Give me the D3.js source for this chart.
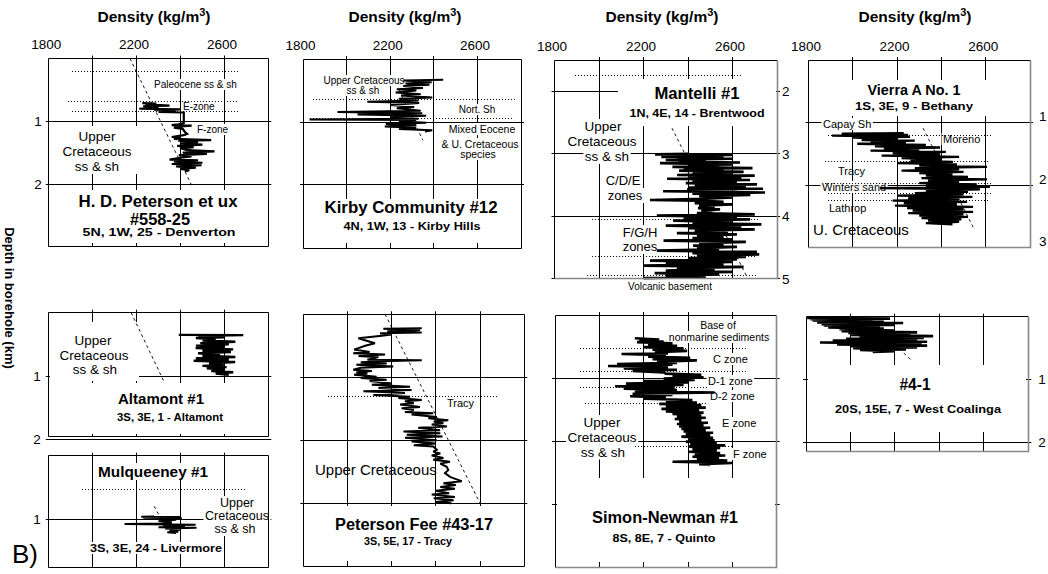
<!DOCTYPE html>
<html><head><meta charset="utf-8">
<script src="https://cdn.jsdelivr.net/npm/d3@7"></script>
<style>html,body{margin:0;padding:0;background:#fff;}svg{display:block;font-family:"Liberation Sans",Arial,Helvetica,sans-serif;}</style>
</head><body>
<svg id="c" width="1048" height="574"></svg>
<script>
// ---------------- DATA ----------------
const densityDomain = [1800, 2800];
const densityTickLabels = [1800, 2200, 2600];
const densityGrid = [2000, 2200, 2400, 2600];

// logs: [depth km, density kg/m3]
const logPeterson = [[0.71,2226],[0.72,2290],[0.73,2240],[0.75,2350],[0.76,2230],[0.78,2300],[0.80,2212],[0.81,2400],[0.82,2280],[0.84,2380],[0.85,2300],[0.86,2415],[0.88,2415],[1.03,2415],[1.05,2390],[1.06,2360],[1.07,2451],[1.08,2400],[1.10,2370],[1.12,2410],[1.17,2420],[1.20,2430],[1.22,2415],[1.25,2360],[1.26,2400],[1.28,2370],[1.30,2540],[1.31,2390],[1.33,2480],[1.35,2400],[1.37,2500],[1.39,2385],[1.41,2460],[1.43,2400],[1.46,2430],[1.48,2555],[1.50,2410],[1.52,2520],[1.54,2392],[1.56,2450],[1.58,2400],[1.61,2350],[1.62,2480],[1.64,2370],[1.66,2500],[1.68,2360],[1.70,2496],[1.72,2380],[1.74,2470],[1.76,2400],[1.78,2440],[1.80,2420]];
const logKirby = [[0.33,2443],[0.34,2260],[0.37,2390],[0.39,2270],[0.41,2380],[0.43,2260],[0.46,2350],[0.48,2230],[0.50,2320],[0.53,2225],[0.56,2340],[0.58,2250],[0.61,2393],[0.63,2240],[0.66,2330],[0.68,2095],[0.70,2333],[0.73,2200],[0.76,2310],[0.78,2230],[0.82,2340],[0.84,1958],[0.86,2347],[0.88,2050],[0.90,2365],[0.92,2200],[0.95,2330],[0.96,1830],[0.97,2319],[0.99,2240],[1.01,2365],[1.03,2180],[1.05,2320],[1.07,2175],[1.09,2319],[1.11,2240],[1.13,2393],[1.15,2360]];
const logMantelli = [[3.00,2400],[3.01,2252],[3.02,2600],[3.03,2330],[3.04,2560],[3.05,2280],[3.06,2508],[3.07,2350],[3.08,2600],[3.10,2300],[3.11,2480],[3.13,2360],[3.14,2634],[3.15,2274],[3.17,2600],[3.18,2400],[3.20,2540],[3.21,2330],[3.23,2690],[3.24,2380],[3.26,2560],[3.27,2360],[3.29,2650],[3.30,2420],[3.32,2600],[3.34,2351],[3.35,2700],[3.37,2400],[3.39,2640],[3.40,2306],[3.42,2679],[3.43,2420],[3.45,2620],[3.47,2390],[3.49,2710],[3.50,2430],[3.52,2660],[3.54,2400],[3.56,2737],[3.57,2396],[3.59,2620],[3.60,2288],[3.62,2746],[3.64,2420],[3.66,2680],[3.68,2450],[3.70,2600],[3.72,2480],[3.74,2229],[3.75,2440],[3.77,2560],[3.79,2430],[3.81,2600],[3.83,2450],[3.85,2520],[3.87,2445],[3.89,2544],[3.91,2460],[3.93,2510],[3.95,2440],[3.97,2700],[3.99,2260],[4.01,2620],[4.03,2380],[4.05,2679],[4.07,2333],[4.09,2600],[4.11,2420],[4.13,2730],[4.15,2300],[4.17,2640],[4.19,2400],[4.21,2700],[4.23,2430],[4.25,2580],[4.27,2350],[4.29,2620],[4.31,2440],[4.33,2560],[4.35,2420],[4.37,2600],[4.39,2290],[4.41,2660],[4.43,2450],[4.45,2560],[4.47,2423],[4.49,2620],[4.51,2440],[4.53,2540],[4.55,2260],[4.57,2710],[4.59,2420],[4.61,2720],[4.63,2440],[4.65,2660],[4.67,2400],[4.69,2620],[4.71,2229],[4.73,2600],[4.75,2300],[4.77,2560],[4.79,2200],[4.81,2650],[4.83,2350],[4.85,2520],[4.87,2300],[4.89,2602],[4.91,2250],[4.93,2540],[4.95,2300],[4.97,2480],[4.99,2200]];
const logVierra = [[1.17,2230],[1.18,1950],[1.20,2250],[1.21,1906],[1.23,2258],[1.24,2000],[1.26,2200],[1.28,2040],[1.29,2280],[1.31,2080],[1.33,2240],[1.34,2020],[1.36,2330],[1.38,2100],[1.40,2394],[1.42,2140],[1.44,2300],[1.45,2080],[1.47,2420],[1.49,2180],[1.51,2394],[1.53,2130],[1.55,2480],[1.57,2220],[1.59,2400],[1.61,2260],[1.63,2452],[1.65,2200],[1.67,2470],[1.69,2300],[1.71,2606],[1.73,2280],[1.75,2480],[1.77,2220],[1.79,2500],[1.81,2300],[1.83,2450],[1.85,2330],[1.87,2520],[1.89,2310],[1.91,2606],[1.93,2340],[1.95,2480],[1.97,2300],[1.99,2560],[2.01,2330],[2.03,2619],[2.05,2123],[2.07,2574],[2.09,2330],[2.11,2520],[2.13,2280],[2.15,2500],[2.17,2200],[2.19,2540],[2.21,2250],[2.23,2480],[2.25,2180],[2.27,2516],[2.29,2230],[2.31,2470],[2.33,2190],[2.35,2543],[2.37,2245],[2.39,2500],[2.41,2270],[2.43,2543],[2.45,2250],[2.47,2500],[2.49,2300],[2.51,2520],[2.53,2310],[2.55,2490],[2.57,2340],[2.59,2480],[2.61,2330],[2.63,2450]];
const logAltamont = [[0.35,2392],[0.355,2686],[0.37,2480],[0.39,2600],[0.40,2470],[0.42,2560],[0.44,2500],[0.46,2650],[0.48,2490],[0.50,2620],[0.52,2470],[0.54,2600],[0.56,2469],[0.58,2640],[0.60,2500],[0.62,2630],[0.64,2480],[0.66,2580],[0.68,2500],[0.70,2650],[0.72,2470],[0.74,2620],[0.76,2460],[0.78,2649],[0.80,2530],[0.82,2600],[0.84,2500],[0.86,2610],[0.88,2520],[0.90,2600],[0.92,2540],[0.94,2640],[0.96,2560],[0.98,2620]];
const logMulqueeney = [[0.96,2280],[0.965,2221],[0.97,2400],[0.98,2230],[0.99,2406],[1.00,2290],[1.01,2380],[1.03,2300],[1.05,2360],[1.07,2340],[1.08,2145],[1.09,2469],[1.10,2320],[1.12,2420],[1.13,2300],[1.14,2473],[1.15,2330],[1.17,2400],[1.18,2350],[1.20,2390],[1.21,2340],[1.22,2380]];
const logPetersonFee = [[0.22,2336],[0.23,2162],[0.25,2328],[0.27,2180],[0.29,2336],[0.30,2147],[0.32,2200],[0.34,2155],[0.38,2049],[0.46,2124],[0.50,2080],[0.56,2030],[0.60,2100],[0.62,2026],[0.64,2170],[0.66,2050],[0.68,2140],[0.72,2090],[0.73,2336],[0.74,2192],[0.76,2060],[0.78,2177],[0.80,2040],[0.83,2207],[0.85,2060],[0.88,2026],[0.90,2110],[0.92,2040],[0.94,2090],[0.96,2030],[0.99,2132],[1.01,2060],[1.04,2177],[1.06,2100],[1.10,2200],[1.12,2110],[1.15,2283],[1.17,2140],[1.20,2290],[1.22,2072],[1.25,2260],[1.28,2117],[1.31,2283],[1.33,2230],[1.36,2336],[1.38,2260],[1.41,2300],[1.43,2238],[1.47,2328],[1.49,2245],[1.52,2300],[1.55,2260],[1.57,2388],[1.59,2290],[1.63,2404],[1.65,2366],[1.68,2456],[1.70,2390],[1.73,2434],[1.75,2381],[1.78,2450],[1.80,2320],[1.84,2419],[1.86,2253],[1.89,2420],[1.91,2268],[1.94,2430],[1.96,2260],[2.00,2404],[2.02,2290],[2.05,2400],[2.08,2300],[2.10,2388],[2.15,2404],[2.18,2388],[2.21,2420],[2.24,2381],[2.28,2434],[2.31,2388],[2.34,2464],[2.37,2420],[2.42,2449],[2.47,2456],[2.52,2441],[2.58,2464],[2.62,2494],[2.65,2517],[2.68,2434],[2.71,2490],[2.74,2420],[2.77,2486],[2.80,2400],[2.84,2460],[2.86,2381],[2.90,2486],[2.92,2390],[2.95,2480],[2.98,2400],[3.00,2470]];
const logSimonNewman = [[0.37,2160],[0.39,2270],[0.40,2180],[0.42,2290],[0.43,2170],[0.45,2330],[0.47,2220],[0.49,2351],[0.51,2200],[0.53,2380],[0.55,2240],[0.57,2396],[0.59,2250],[0.61,2310],[0.62,2100],[0.64,2300],[0.66,2220],[0.68,2410],[0.70,2240],[0.72,2440],[0.74,2260],[0.76,2350],[0.78,2080],[0.79,2330],[0.81,2039],[0.83,2310],[0.85,2110],[0.87,2350],[0.89,2150],[0.91,2290],[0.93,2300],[0.95,2460],[0.97,2330],[0.99,2470],[1.01,2290],[1.03,2430],[1.05,2200],[1.07,2400],[1.09,2120],[1.11,2380],[1.13,2071],[1.15,2340],[1.17,2110],[1.19,2350],[1.21,2160],[1.23,2520],[1.25,2150],[1.27,2330],[1.29,2139],[1.31,2300],[1.33,2200],[1.35,2420],[1.37,2300],[1.39,2440],[1.41,2270],[1.43,2460],[1.45,2300],[1.47,2480],[1.49,2280],[1.51,2450],[1.53,2300],[1.55,2470],[1.57,2330],[1.59,2460],[1.61,2350],[1.63,2480],[1.65,2340],[1.67,2460],[1.69,2360],[1.71,2490],[1.73,2350],[1.75,2470],[1.77,2360],[1.79,2500],[1.81,2370],[1.83,2480],[1.85,2380],[1.87,2513],[1.89,2390],[1.91,2500],[1.93,2370],[1.95,2513],[1.97,2400],[1.99,2520],[2.01,2390],[2.03,2530],[2.05,2410],[2.07,2568],[2.09,2400],[2.11,2545],[2.13,2420],[2.15,2530],[2.17,2400],[2.19,2545],[2.21,2430],[2.23,2568],[2.25,2420],[2.27,2540],[2.29,2440],[2.31,2577],[2.33,2330],[2.35,2599],[2.37,2450],[2.38,2500]];
const logCoalinga = [[0.02,1805],[0.03,2178],[0.04,1820],[0.05,2100],[0.06,1830],[0.08,2150],[0.09,1850],[0.10,2237],[0.12,1870],[0.13,2200],[0.14,1880],[0.16,2133],[0.17,1900],[0.19,2150],[0.20,1950],[0.22,2200],[0.23,1960],[0.25,2300],[0.26,1990],[0.28,2270],[0.29,2000],[0.31,2372],[0.32,2040],[0.34,2330],[0.35,1980],[0.37,2300],[0.38,1920],[0.40,2345],[0.41,1863],[0.43,2320],[0.44,1940],[0.46,2345],[0.47,1998],[0.49,2300],[0.50,2012],[0.52,2250],[0.53,2043],[0.55,2200],[0.56,2100]];

// compaction trends: [depth, density]
const trendPeterson = [[0,2170],[2.02,2451]];
const trendKirby = [[0.49,2240],[1.29,2350]];
const trendMantelli = [[2.59,2328],[4.97,2665]];
const trendVierra = [[1.09,2317],[2.70,2547]];
const trendAltamont = [[0,2175],[1.09,2325]];
const trendMulqueeney = [[0.80,2280],[1.16,2338]];
const trendPetersonFee = [[0,2170],[3,2600]];
const trendSimonNewman = [];
const trendCoalinga = [[0.58,2240],[0.68,2270]];

// dotted zone boundaries: [depth, density from, density to]
const zonesPeterson = [[0.20,1906,2671],[0.68,1887,2657],[0.85,1906,2671]];
const zonesKirby = [[0.65,1846,2772],[0.95,1832,2763]];
const zonesMantelli = [[1.74,1892,2647],[4.06,1969,2715],[4.64,1969,2706],[4.95,1946,2706]];
const zonesVierra = [[1.20,1888,2633],[1.63,1875,2619],[1.98,1875,2628],[2.14,1888,2633],[2.24,1888,2619]];
const zonesAltamont = [];
const zonesMulqueeney = [[0.53,1951,2703]];
const zonesPetersonFee = [[1.31,1912,2681]];
const zonesSimonNewman = [[0.53,1913,2671],[0.90,1913,2671],[1.15,1913,2486],[1.40,1935,2486],[2.08,2161,2604]];
const zonesCoalinga = [];

// ---------------- LAYOUT ----------------
const panels = [
 {xr:[48.8,268.3], top:58.5, ppk:62.8, depth:[0,3], hgrid:[1,2], log:logPeterson, lw:2.2, trend:trendPeterson, zones:zonesPeterson, topLabels:true, edge:'#000', axis:{side:'left',values:[1,2],pad:7,shift:0}, masks:[[50,190,267,243],[68,126,139,174]]},
 {xr:[303,521], top:59, ppk:63, depth:[0,3], hgrid:[1,2], log:logKirby, lw:2, trend:trendKirby, zones:zonesKirby, topLabels:true, edge:'#000', masks:[[304,199,520,243]]},
 {xr:[554.5,777], top:60, ppk:62.5, depth:[1.5,5], hgrid:[2,3,4,5], log:logMantelli, lw:2.6, trend:trendMantelli, zones:zonesMantelli, topLabels:true, edge:'#888', axis:{side:'right',values:[2,3,4,5],pad:5,shift:0}, masks:[[618,79,776,126]]},
 {xr:[808.5,1030], top:60, ppk:62.5, depth:[0,3], hgrid:[1,2], log:logVierra, lw:2.4, trend:trendVierra, zones:zonesVierra, topLabels:true, edge:'#888', axis:{side:'right',values:[1,2,3],pad:9,shift:-6}, masks:[[815,80,1025,116]]},
 {xr:[48.8,268.3], top:312.7, ppk:63.3, depth:[0,1.96], hgrid:[1,2], log:logAltamont, lw:2.4, trend:trendAltamont, zones:zonesAltamont, topLabels:false, edge:'#000', axis:{side:'left',values:[1,2],pad:8,shift:0}, masks:[[50,383,267,434],[50,322,139,381]]},
 {xr:[48.8,268.3], top:455.7, ppk:63.3, depth:[0,1.77], hgrid:[1], log:logMulqueeney, lw:2, trend:trendMulqueeney, zones:zonesMulqueeney, topLabels:false, edge:'#000', axis:{side:'left',values:[1],pad:8,shift:0}, masks:[]},
 {xr:[303.3,524.3], top:314.3, ppk:63, depth:[0,4], hgrid:[1,2,3], log:logPetersonFee, lw:2, trend:trendPetersonFee, zones:zonesPetersonFee, topLabels:false, edge:'#000', masks:[[305,506,523,561]]},
 {xr:[555,776.7], top:315, ppk:63, depth:[0,4], hgrid:[1,2,3], log:logSimonNewman, lw:2.6, trend:trendSimonNewman, zones:zonesSimonNewman, topLabels:false, edge:'#888', masks:[[557,478,775,562]]},
 {xr:[806,1028.3], top:316.7, ppk:62.8, depth:[0,2.14], hgrid:[1,2], log:logCoalinga, lw:2.6, trend:trendCoalinga, zones:zonesCoalinga, topLabels:false, edge:'#888', axis:{side:'right',values:[1,2],pad:10,shift:0}, masks:[[808,365,1026,432]]}
];

// text: [text, x, baselineY, size, anchor, bold, bg, width]
const texts = [
 ['Paleocene ss & sh',154,88,10,'start',0,1],['E-zone',183,110,10,'start',0,1],['F-zone',197,133,10,'start',0,1],
 ['Upper',97,141,13.5,'middle',0,1],['Cretaceous',97,156,13.5,'middle',0,1],['ss & sh',97,171,13.5,'middle',0,1],
 ['H. D. Peterson et ux',158,207,16,'middle',1,0,159],['#558-25',160,225,16,'middle',1,0,60],['5N, 1W, 25 - Denverton',159,236,11,'middle',1,0,153],
 ['Upper Cretaceous',364,84,10,'middle',0,1],['ss & sh',363,94,10,'middle',0,1],['Nort. Sh',477,113,10,'middle',0,1],
 ['Mixed Eocene',482,133,10.5,'middle',0,1],['& U. Cretaceous',480,148,10.5,'middle',0,1],['species',478,158,10.5,'middle',0,1],
 ['Kirby Community #12',411,213,16.5,'middle',1,0,173],['4N, 1W, 13 - Kirby Hills',412,230,11,'middle',1,0,137],
 ['Mantelli #1',697,99,16,'middle',1,0,85],['1N, 4E, 14 - Brentwood',697,117,11,'middle',1,0,135],
 ['Upper',603,131,13.5,'middle',0,1],['Cretaceous',602,146,13.5,'middle',0,1],['ss & sh',607,161,13.5,'middle',0,1],
 ['C/D/E',623,185,13,'middle',0,1],['zones',625,200,13,'middle',0,1],['F/G/H',640,237,13,'middle',0,1],['zones',640,251,13,'middle',0,1],
 ['Volcanic basement',670,290,10,'middle',0,0],
 ['Vierra A No. 1',914,95,15,'middle',1,0,93],['1S, 3E, 9 - Bethany',914,110,11,'middle',1,0,118],
 ['Capay Sh',823,128,11,'start',0,1],['Moreno',943,143,11,'start',0,1],['Tracy',838,175,11,'start',0,0],['Winters sand',822,191,11,'start',0,1],['Lathrop',829,212,11,'start',0,0],['U. Cretaceous',813,235,15,'start',0,0],
 ['Upper',93,345,13.5,'middle',0,1],['Cretaceous',94,359.5,13.5,'middle',0,1],['ss & sh',95,374,13.5,'middle',0,1],
 ['Altamont #1',161,404,15,'middle',1,0,86],['3S, 3E, 1 - Altamont',170,421,11,'middle',1,0,106],
 ['Mulqueeney #1',153,477,15,'middle',1,1,110],['3S, 3E, 24 - Livermore',156,552,11,'middle',1,1,132],
 ['Upper',237,507,12.5,'middle',0,1],['Cretaceous',237,520,12.5,'middle',0,1],['ss & sh',235,533,12.5,'middle',0,1],
 ['Tracy',447,407,11,'start',0,0],['Upper Cretaceous',315,475,15,'start',0,0],
 ['Peterson Fee #43-17',414,530,16,'middle',1,0,158],['3S, 5E, 17 - Tracy',408,545,11,'middle',1,0,88],
 ['Base of',718,329,10.5,'middle',0,1],['nonmarine sediments',719,341,10.5,'middle',0,1],
 ['C zone',713,363,11,'start',0,1],['D-1 zone',708,385,11,'start',0,1],['D-2 zone',710,400,11,'start',0,1],['E zone',722,427,11,'start',0,1],['F zone',733,458,11,'start',0,1],
 ['Upper',602,427,13.5,'middle',0,1],['Cretaceous',602,441.5,13.5,'middle',0,1],['ss & sh',603,456.5,13.5,'middle',0,1],
 ['Simon-Newman #1',665,523,16,'middle',1,0,146],['8S, 8E, 7 - Quinto',664,542,11,'middle',1,0,103],
 ['#4-1',915,390,16,'middle',1,0,31],['20S, 15E, 7 - West Coalinga',918,413,11,'middle',1,0,166]
];
const densityTitleCenters = [154, 405, 662, 915];

// ---------------- DRAW ----------------
const svg = d3.select('#c');
const L = {};
['base','grid','mask','zones','trend','log','frame','text'].forEach(k => L[k] = svg.append('g'));
const crisp = v => Math.round(v - 0.5) + 0.5;

panels.forEach(p => {
  const x = d3.scaleLinear().domain(densityDomain).range(p.xr);
  const y = d3.scaleLinear().domain(p.depth).range([p.top, p.top + (p.depth[1]-p.depth[0])*p.ppk]);
  const [x0,x1] = p.xr, [y0,y1] = y.range();
  L.base.append('rect').attr('x',x0).attr('y',y0).attr('width',x1-x0).attr('height',y1-y0).attr('fill','#fff');
  L.grid.selectAll(null).data(densityGrid).join('line')
    .attr('x1',d=>crisp(x(d))).attr('x2',d=>crisp(x(d))).attr('y1',y0-3).attr('y2',y1)
    .attr('stroke','#000').attr('stroke-width',1);
  L.grid.selectAll(null).data(p.hgrid).join('line')
    .attr('x1',x0-3).attr('x2',x1+3).attr('y1',d=>crisp(y(d))).attr('y2',d=>crisp(y(d)))
    .attr('stroke','#000').attr('stroke-width',1);
  p.masks.forEach(m => L.mask.append('rect').attr('x',m[0]).attr('y',m[1]).attr('width',m[2]-m[0]).attr('height',m[3]-m[1]).attr('fill','#fff'));
  L.zones.selectAll(null).data(p.zones).join('line')
    .attr('x1',d=>x(d[1])).attr('x2',d=>x(d[2])).attr('y1',d=>crisp(y(d[0]))).attr('y2',d=>crisp(y(d[0])))
    .attr('stroke','#000').attr('stroke-width',1).attr('stroke-dasharray','1,2');
  const line = d3.line().x(d=>x(d[1])).y(d=>y(d[0]));
  if (p.trend.length) L.trend.append('path').attr('d',line(p.trend)).attr('fill','none')
    .attr('stroke','#000').attr('stroke-width',0.9).attr('stroke-dasharray','3,3');
  L.log.append('path').attr('d',line(p.log)).attr('fill','none')
    .attr('stroke','#000').attr('stroke-width',p.lw).attr('stroke-miterlimit',2);
  // frame
  const fx0=crisp(x0), fx1=crisp(x1), fy0=crisp(y0), fy1=crisp(y1);
  L.frame.append('path').attr('d',`M${fx0},${fy1}V${fy0}H${fx1}`).attr('fill','none').attr('stroke','#000').attr('stroke-width',1);
  L.frame.append('path').attr('d',`M${fx1},${fy0}V${fy1}H${fx0}`).attr('fill','none').attr('stroke',p.edge).attr('stroke-width',p.edge==='#000'?1:1.6);
  if (p.topLabels) {
    const ax = L.text.append('g').attr('transform',`translate(-3,${y0})`)
      .call(d3.axisTop(x).tickValues(densityTickLabels).tickSize(0).tickPadding(9.5).tickFormat(d3.format('d')));
    ax.select('.domain').remove();
    ax.selectAll('text').attr('font-size',13.5).attr('font-family','"Liberation Sans",Arial,sans-serif').attr('fill','#000');
  }
  if (p.axis) {
    const gen = p.axis.side==='left' ? d3.axisLeft(y) : d3.axisRight(y);
    const ax = L.text.append('g').attr('transform',`translate(${p.axis.side==='left'?x0:x1},${p.axis.shift})`)
      .call(gen.tickValues(p.axis.values).tickSize(0).tickPadding(p.axis.pad).tickFormat(d3.format('d')));
    ax.select('.domain').remove();
    ax.selectAll('text').attr('font-size',13.5).attr('font-family','"Liberation Sans",Arial,sans-serif').attr('fill','#000');
  }
});

// density titles
densityTitleCenters.forEach(cx => {
  const t = L.text.append('text').attr('x',cx).attr('y',22).attr('text-anchor','middle')
    .attr('font-weight','bold').attr('font-size',15.5);
  t.append('tspan').text('Density (kg/m');
  t.append('tspan').attr('dy',-6).attr('font-size',11).text('3');
  t.append('tspan').attr('dy',6).text(')');
});

// annotation texts
texts.forEach(([s,x,y,size,anchor,bold,bg,w]) => {
  const t = L.text.append('text').attr('x',x).attr('y',y).attr('font-size',size)
    .attr('text-anchor',anchor).attr('font-weight',bold?'bold':'normal').text(s);
  if (w) t.attr('textLength',w).attr('lengthAdjust','spacingAndGlyphs');
  if (bg) {
    const b = t.node().getBBox();
    L.mask.append('rect').attr('x',b.x-1.5).attr('y',b.y).attr('width',b.width+3).attr('height',b.height).attr('fill','#fff');
  }
});

// y-axis title and panel tag
L.text.append('text').attr('transform','translate(4.5,298) rotate(90)').attr('text-anchor','middle')
  .attr('font-weight','bold').attr('font-size',13).text('Depth in borehole (km)');
L.text.append('text').attr('x',12).attr('y',563).attr('font-size',26).text('B)');
</script>
</body></html>
